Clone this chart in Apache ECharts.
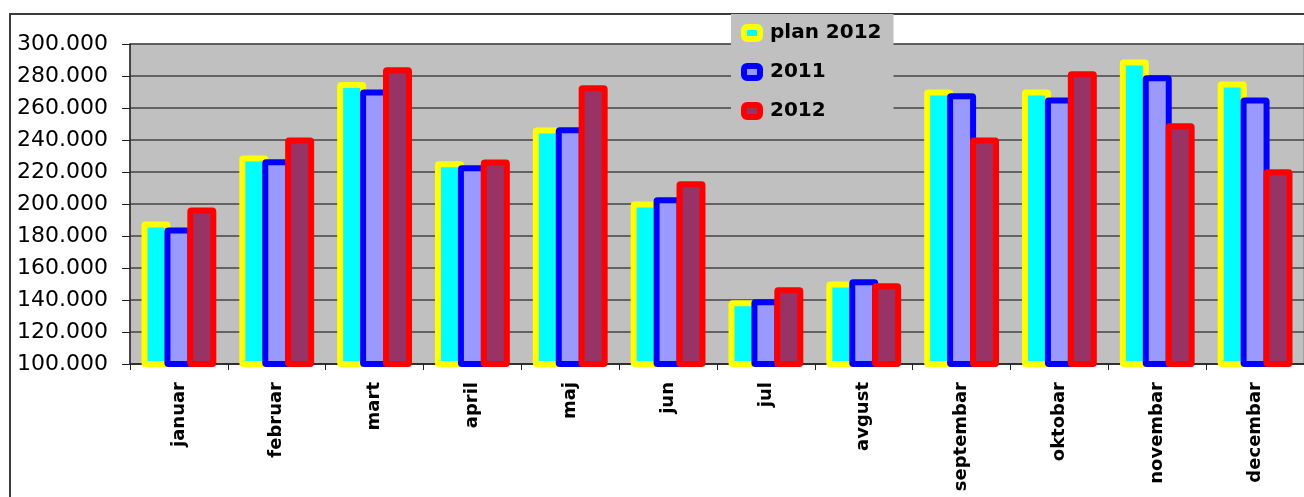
<!DOCTYPE html>
<html>
<head>
<meta charset="utf-8">
<script src="https://cdn.jsdelivr.net/npm/echarts@6/dist/echarts.min.js"></script>
<style>
  html, body { margin: 0; padding: 0; background: #ffffff; }
  #chart { width: 1304px; height: 497px; }
</style>
</head>
<body>
<div id="chart"></div>
<script>
// Monthly figures: plan for 2012 against actuals for 2011 and 2012
const months = ['januar', 'februar', 'mart', 'april', 'maj', 'jun', 'jul', 'avgust', 'septembar', 'oktobar', 'novembar', 'decembar'];
const plan2012 = [189000, 230300, 276300, 226700, 247800, 201500, 139900, 151500, 271500, 271500, 290300, 276500];
const actual2011 = [185300, 228000, 271500, 224200, 248000, 204200, 140500, 152900, 269200, 266500, 280500, 266500];
const actual2012 = [197800, 241500, 285500, 227800, 274200, 214200, 147900, 150500, 241500, 283000, 250500, 221700];
const seriesNames = ['plan 2012', '2011', '2012'];

// thousands separated with a dot: 300000 -> "300.000"
function fmt(v) {
  return String(Math.round(v)).replace(/\B(?=(\d{3})+(?!\d))/g, '.');
}

function barSeries(name, data, fill, border) {
  return {
    name: name,
    type: 'bar',
    data: data,
    barWidth: 29,
    barGap: '-21%',
    itemStyle: {
      color: fill,
      borderColor: border,
      borderWidth: 6,
      borderJoin: 'round',
      borderRadius: 1
    }
  };
}

const chart = echarts.init(document.getElementById('chart'), null, { renderer: 'canvas' });

chart.setOption({
  backgroundColor: '#ffffff',
  animation: false,
  graphic: [{
    type: 'rect',
    z: -10,
    shape: { x: 10, y: 14, width: 1400, height: 600 },
    style: { fill: 'none', stroke: '#3c3c3c', lineWidth: 2 }
  }],
  grid: {
    left: 130, top: 44, right: 0, bottom: 133,
    show: true,
    backgroundColor: '#C0C0C0',
    borderColor: '#808080',
    borderWidth: 1
  },
  legend: {
    orient: 'vertical',
    left: 731, top: 14,
    data: seriesNames,
    backgroundColor: '#C0C0C0',
    padding: [9, 12, 8, 10],
    itemGap: 19,
    itemWidth: 16,
    itemHeight: 12,
    icon: 'roundRect',
    itemStyle: { borderWidth: 6 },
    textStyle: {
      fontFamily: 'DejaVu Sans', fontWeight: 'bold', fontSize: 20,
      color: '#000', lineHeight: 18,
      padding: [0, 0, 0, 5]
    }
  },
  xAxis: {
    type: 'category',
    data: months,
    boundaryGap: true,
    axisLine: { lineStyle: { color: '#222', width: 1.5 } },
    axisTick: { show: true, interval: 0, length: 6, lineStyle: { color: '#222' } },
    axisLabel: {
      interval: 0,
      rotate: 90,
      margin: 18,
      padding: [0, 0, 8, 0],
      fontFamily: 'DejaVu Sans', fontWeight: 'bold', fontSize: 18,
      color: '#000'
    }
  },
  yAxis: {
    type: 'value',
    min: 100000, max: 300000, interval: 20000,
    axisLine: { show: true, lineStyle: { color: '#222', width: 1.5 } },
    axisTick: { show: true, length: 8, lineStyle: { color: '#222' } },
    axisLabel: {
      margin: 22,
      formatter: fmt,
      fontFamily: 'DejaVu Sans', fontSize: 22,
      color: '#000'
    },
    splitLine: { lineStyle: { color: '#444', width: 1.5 } }
  },
  series: [
    barSeries(seriesNames[0], plan2012, '#00FFFF', '#FFFF00'),
    barSeries(seriesNames[1], actual2011, '#9999FF', '#0000FF'),
    barSeries(seriesNames[2], actual2012, '#993366', '#FF0000')
  ]
});
</script>
</body>
</html>
